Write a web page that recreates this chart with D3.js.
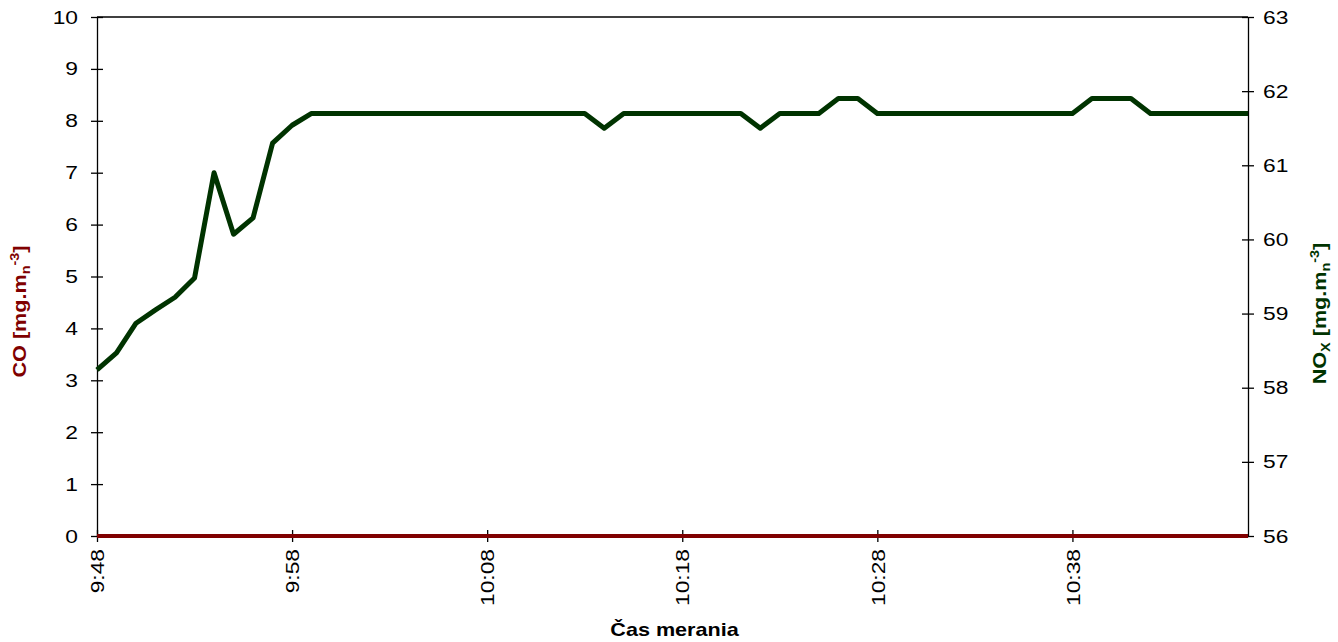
<!DOCTYPE html>
<html>
<head>
<meta charset="utf-8">
<script src="https://cdn.jsdelivr.net/npm/d3@7"></script>
<style>
  body { margin: 0; background: #fff; }
  svg { display: block; font-family: 'Liberation Sans', Arial, sans-serif; }
</style>
</head>
<body>
<div id="chart-area"></div>
<script>
// measurement minutes
const times = [
  '9:48', '9:49', '9:50', '9:51', '9:52', '9:53', '9:54', '9:55', '9:56', '9:57', '9:58', '9:59',
  '10:00', '10:01', '10:02', '10:03', '10:04', '10:05', '10:06', '10:07', '10:08', '10:09',
  '10:10', '10:11', '10:12', '10:13', '10:14', '10:15', '10:16', '10:17', '10:18', '10:19',
  '10:20', '10:21', '10:22', '10:23', '10:24', '10:25', '10:26', '10:27', '10:28', '10:29',
  '10:30', '10:31', '10:32', '10:33', '10:34', '10:35', '10:36', '10:37', '10:38', '10:39',
  '10:40', '10:41', '10:42', '10:43', '10:44', '10:45', '10:46', '10:47'
]
const xTickLabels = ['9:48', '9:58', '10:08', '10:18', '10:28', '10:38']

const coValues = [
  0, 0, 0, 0, 0, 0, 0, 0, 0, 0, 0, 0,
  0, 0, 0, 0, 0, 0, 0, 0, 0, 0,
  0, 0, 0, 0, 0, 0, 0, 0, 0, 0,
  0, 0, 0, 0, 0, 0, 0, 0, 0, 0,
  0, 0, 0, 0, 0, 0, 0, 0, 0, 0,
  0, 0, 0, 0, 0, 0, 0, 0
]
const noxValues = [
  58.24, 58.47, 58.87, 59.05, 59.22, 59.48, 60.9, 60.07, 60.29, 61.3, 61.54, 61.7,
  61.7, 61.7, 61.7, 61.7, 61.7, 61.7, 61.7, 61.7, 61.7, 61.7,
  61.7, 61.7, 61.7, 61.7, 61.5, 61.7, 61.7, 61.7, 61.7, 61.7,
  61.7, 61.7, 61.5, 61.7, 61.7, 61.7, 61.9, 61.9, 61.7, 61.7,
  61.7, 61.7, 61.7, 61.7, 61.7, 61.7, 61.7, 61.7, 61.7, 61.9,
  61.9, 61.9, 61.7, 61.7, 61.7, 61.7, 61.7, 61.7
]
const coTicks = [0, 1, 2, 3, 4, 5, 6, 7, 8, 9, 10]
const noxTicks = [56, 57, 58, 59, 60, 61, 62, 63]

const coColor = '#800000'
const noxColor = '#003300'
// the original text is drawn slightly wide, so stretch it a bit
const stretch = 1.2

const margin = { top: 17, right: 90, bottom: 106, left: 97 }
const width = 1338 - margin.left - margin.right
const height = 642 - margin.top - margin.bottom

const svg = d3.select('#chart-area')
  .append('svg')
    .attr('width', 1338)
    .attr('height', 642)

const g = svg.append('g')
  .attr('transform', `translate(${margin.left}, ${margin.top})`)

const x = d3.scalePoint()
  .domain(times)
  .range([0, width])
  .padding(0)

const yCo = d3.scaleLinear()
  .domain([0, 10])
  .range([height, 0])

const yNox = d3.scaleLinear()
  .domain([56, 63])
  .range([height, 0])

// top border of plot area
g.append('line')
  .attr('x1', 0).attr('x2', width)
  .attr('y1', 0).attr('y2', 0)
  .attr('stroke', '#000')
  .attr('stroke-width', 1.3)

const styleAxis = sel => {
  sel.select('.domain').attr('stroke', '#000').attr('stroke-width', 1.3)
  sel.selectAll('.tick line').attr('stroke', '#000').attr('stroke-width', 1.3)
  sel.selectAll('.tick text')
    .attr('fill', '#000')
    .style('font-size', '19px')
    .style('font-family', "'Liberation Sans', Arial, sans-serif")
}

// left axis (CO)
const leftAxis = g.append('g')
  .call(d3.axisLeft(yCo).tickValues(coTicks).tickFormat(d3.format('d'))
    .tickSize(6).tickSizeOuter(0))
leftAxis.selectAll('.tick line').attr('x1', 6)
styleAxis(leftAxis)
leftAxis.selectAll('.tick text')
  .attr('x', -19 / stretch)
  .attr('transform', `scale(${stretch}, 1)`)

// right axis (NOx)
const rightAxis = g.append('g')
  .attr('transform', `translate(${width}, 0)`)
  .call(d3.axisRight(yNox).tickValues(noxTicks).tickFormat(d3.format('d'))
    .tickSize(6).tickSizeOuter(0))
rightAxis.selectAll('.tick line').attr('x1', -6)
styleAxis(rightAxis)
rightAxis.selectAll('.tick text')
  .attr('x', 15 / stretch)
  .attr('transform', `scale(${stretch}, 1)`)

// bottom axis (time)
const bottomAxis = g.append('g')
  .attr('transform', `translate(0, ${height})`)
  .call(d3.axisBottom(x).tickValues(xTickLabels).tickSize(6).tickSizeOuter(0))
bottomAxis.selectAll('.tick line').attr('y1', -6)
styleAxis(bottomAxis)
bottomAxis.selectAll('.tick text')
  .attr('transform', `rotate(-90) scale(${stretch}, 1)`)
  .attr('x', -13 / stretch)
  .attr('y', 0)
  .attr('dy', '0.35em')
  .attr('text-anchor', 'end')

// series lines
const coLine = d3.line()
  .x((d, i) => x(times[i]))
  .y(d => yCo(d))

const noxLine = d3.line()
  .x((d, i) => x(times[i]))
  .y(d => yNox(d))

g.append('path')
  .datum(noxValues)
  .attr('fill', 'none')
  .attr('stroke', noxColor)
  .attr('stroke-width', 5)
  .attr('stroke-linejoin', 'round')
  .attr('d', noxLine)

g.append('path')
  .datum(coValues)
  .attr('fill', 'none')
  .attr('stroke', coColor)
  .attr('stroke-width', 4)
  .attr('d', coLine)

// axis titles
g.append('text')
  .attr('transform', `translate(${width / 2 + 2}, ${height + 100}) scale(${stretch}, 1)`)
  .attr('text-anchor', 'middle')
  .style('font-size', '18px')
  .style('font-weight', 'bold')
  .text('Čas merania')

const coTitle = g.append('text')
  .attr('transform', `translate(${-71}, ${height / 2 + 35}) rotate(-90) scale(${stretch}, 1)`)
  .attr('text-anchor', 'middle')
  .attr('fill', coColor)
  .style('font-size', '18px')
  .style('font-weight', 'bold')
coTitle.append('tspan').text('CO [mg.m')
coTitle.append('tspan').attr('dy', 4).style('font-size', '12px').text('n')
coTitle.append('tspan').attr('dy', -11).style('font-size', '12px').text('-3')
coTitle.append('tspan').attr('dy', 7).text(']')

const noxTitle = g.append('text')
  .attr('transform', `translate(${width + 78}, ${height / 2 + 37}) rotate(-90) scale(${stretch}, 1)`)
  .attr('text-anchor', 'middle')
  .attr('fill', noxColor)
  .style('font-size', '18px')
  .style('font-weight', 'bold')
noxTitle.append('tspan').text('NO')
noxTitle.append('tspan').attr('dy', 4).style('font-size', '12px').text('X')
noxTitle.append('tspan').attr('dy', -4).text(' [mg.m')
noxTitle.append('tspan').attr('dy', 4).style('font-size', '12px').text('n')
noxTitle.append('tspan').attr('dy', -11).style('font-size', '12px').text('-3')
noxTitle.append('tspan').attr('dy', 7).text(']')
</script>
</body>
</html>
